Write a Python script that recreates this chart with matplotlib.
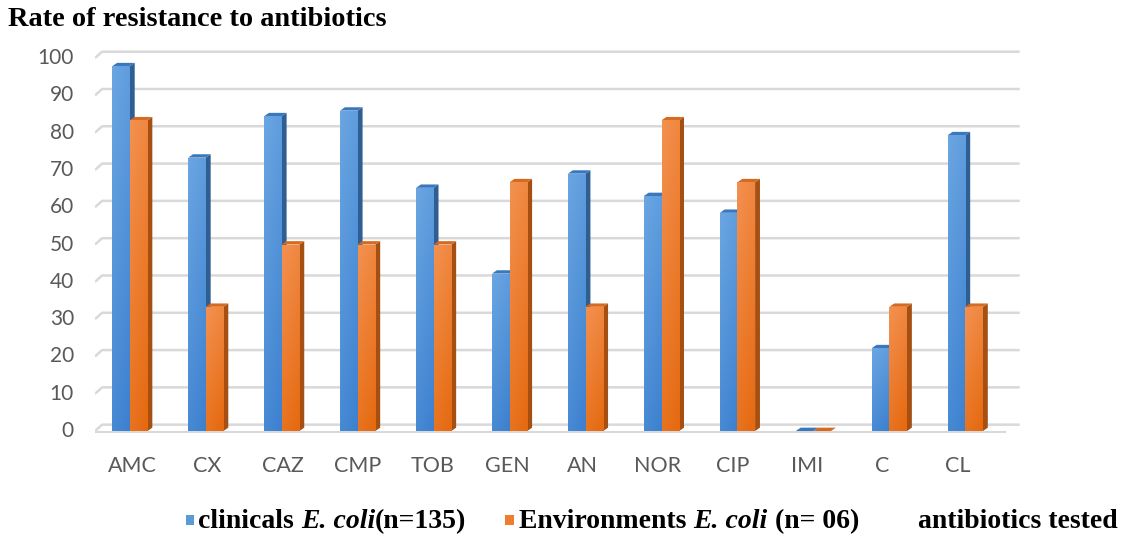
import numpy as np
import matplotlib.pyplot as plt
from matplotlib.patches import Polygon, Rectangle
from matplotlib.colors import LinearSegmentedColormap

# resistance rates (%) per antibiotic
antibiotics = ['AMC', 'CX', 'CAZ', 'CMP', 'TOB', 'GEN', 'AN', 'NOR', 'CIP', 'IMI', 'C', 'CL']
clinical = [97.8, 73.3, 84.4, 85.9, 65.2, 42.2, 69.0, 63.0, 58.5, 0.0, 22.2, 79.3]
environment = [83.3, 33.3, 50.0, 50.0, 50.0, 66.7, 33.3, 83.3, 66.7, 0.0, 33.3, 33.3]
y_ticks = [0, 10, 20, 30, 40, 50, 60, 70, 80, 90, 100]

W, H = 1129, 540
fig = plt.figure(figsize=(W / 100, H / 100), dpi=100)
ax = fig.add_axes([95 / W, 100 / H, 930 / W, 400 / H])
ax.axis('off')

XMIN, XMAX = -0.5, 11.9
YMIN, YMAX = -2.41, 104.83

# pseudo-3D offsets (bar depth, back wall depth)
dx, dy = 0.065, 0.9
gx, gy = 0.095, 1.7

grid_c = '#d9d9d9'
for v in y_ticks:
    ax.plot([XMIN, XMIN + gx, 11.83], [v, v + gy, v + gy], color=grid_c, lw=1.8,
            solid_capstyle='butt', zorder=1)
    ax.text(XMIN - 0.28, v, str(v), ha='right', va='center', fontsize=15,
            color='#595959', family='Lato')
ax.plot([XMIN, 11.63], [-0.3, -0.3], color=grid_c, lw=1.5, zorder=1)

blue_cm = LinearSegmentedColormap.from_list('b', ['#3c80cf', '#6ba6e2'])
orange_cm = LinearSegmentedColormap.from_list('o', ['#e5690f', '#f39150'])
grad = np.linspace(0, 1, 64).reshape(-1, 1)
grad = grad * 0.75 + np.linspace(0.25, 0, 16).reshape(1, -1)


def bar3d(x0, w, h, cmap, side, top, z):
    x1 = x0 + w
    ax.add_patch(Polygon([(x1, 0), (x1 + dx, dy), (x1 + dx, h + dy), (x1, h)],
                         closed=True, fc=side, ec='none', zorder=z))
    ax.add_patch(Polygon([(x0, h), (x1, h), (x1 + dx, h + dy), (x0 + dx, h + dy)],
                         closed=True, fc=top, ec='none', zorder=z))
    front = Rectangle((x0, 0), w, h, fc='none', ec='none', zorder=z)
    ax.add_patch(front)
    if h > 0:
        im = ax.imshow(grad, cmap=cmap, origin='lower', aspect='auto',
                       extent=[x0, x1, 0, h], zorder=z, vmin=0, vmax=1)
        im.set_clip_path(front)


bw = 0.235
x = np.arange(len(antibiotics))
shift = -0.153 + 0.0127 * x  # groups drift right slightly, like the perspective view
for i in range(len(antibiotics)):
    xb = x[i] + shift[i] - bw / 2
    bar3d(xb, bw, clinical[i], blue_cm, '#2f5f92', '#3a78bd', 3 + i * 0.01)
    bar3d(xb + bw, bw, environment[i], orange_cm, '#a64f12', '#d66a1e', 4 + i * 0.01)
    ax.text(x[i], -9.3, antibiotics[i], ha='center', va='center', fontsize=15.5,
            color='#595959', family='Lato')

ax.set_xlim(XMIN, XMAX)
ax.set_ylim(YMIN, YMAX)

serif = 'Liberation Serif'
fig.text(8 / W, 1 - 20 / H, 'Rate of resistance to antibiotics', ha='left', va='center',
         fontsize=20.4, fontweight='bold', family=serif)

# legend row
base = 1 - 534 / H
fig.patches.append(Rectangle((186 / W, 1 - 525 / H), 8 / W, 10 / H,
                             transform=fig.transFigure, fc='#5b9bd5', ec='none'))
fig.patches.append(Rectangle((505 / W, 1 - 525 / H), 9 / W, 10 / H,
                             transform=fig.transFigure, fc='#ed7d31', ec='none'))


def chain_parts(parts, x0):
    # each piece starts where the previous one ends
    prev = None
    for txt, style in parts:
        kw = dict(fontsize=20, fontweight='bold', family=serif, fontstyle=style,
                  va='bottom', ha='left')
        if prev is None:
            prev = fig.text(x0 / W, base, txt, **kw)
        else:
            prev = fig.add_artist(
                plt.Annotation(txt, xy=(1, 0), xycoords=prev, **kw))


chain_parts([('clinicals ', 'normal'), ('E. coli', 'italic'), ('(n=135)', 'normal')], 198)
chain_parts([('Environments ', 'normal'), ('E. coli', 'italic'), (' (n= 06)', 'normal')], 519)
fig.text(918 / W, base, 'antibiotics tested', ha='left', va='bottom',
         fontsize=20, fontweight='bold', family=serif)

fig.savefig('out.png', dpi=100)
